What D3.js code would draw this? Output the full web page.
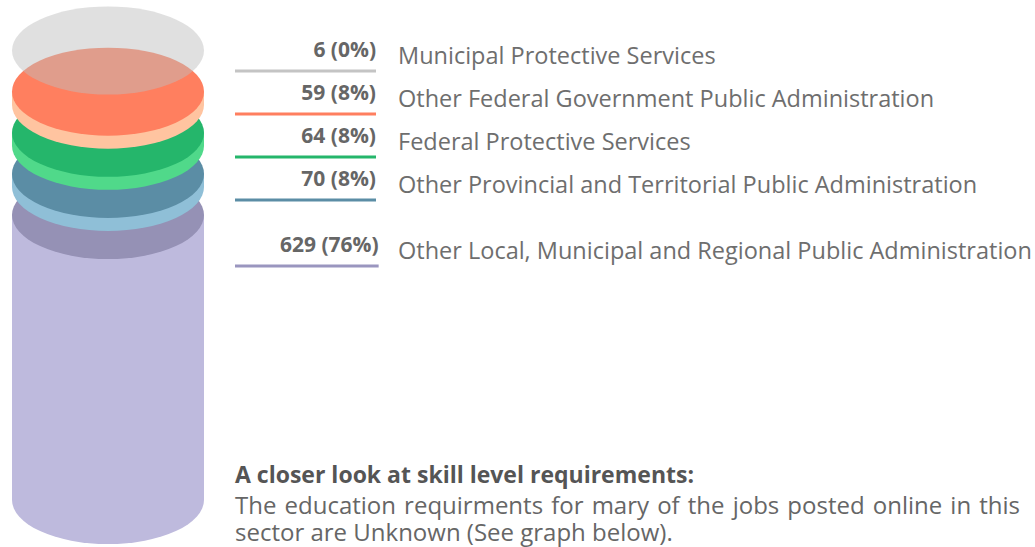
<!DOCTYPE html>
<html>
<head>
<meta charset="utf-8">
<script src="https://cdn.jsdelivr.net/npm/d3@7"></script>
<style>
  body { margin: 0; background: #fff; }
  svg { display: block; font-family: "Open Sans", sans-serif; }
</style>
</head>
<body>
<svg class="plot" width="1035" height="547"></svg>
<script>
// data, top layer first
var sectors = ["Municipal Protective Services",
               "Other Federal Government Public Administration",
               "Federal Protective Services",
               "Other Provincial and Territorial Public Administration",
               "Other Local, Municipal and Regional Public Administration"];
var counts = [6, 59, 64, 70, 629];
var percents = [0, 8, 8, 8, 76];

var faceColors = ["#bfbfbf", "#ff7f5f", "#25b66b", "#5b8da5", "#9591b5"];
var sideColors = ["#bfbfbf", "#ffc4a0", "#50d98a", "#8fbfd7", "#bebadd"];
var lineColors = ["#c4c4c4", "#ff7f5f", "#25b66b", "#5b8da5", "#9a96bf"];

var svg = d3.select(".plot");

var cx = 108, rx = 96, ry = 44;

// layer tops stacked down the cylinder
var yTop = d3.scaleLinear().domain([0, sectors.length - 1]).range([50.5, 215]);
// thickness of a layer from its share
var depth = d3.scaleLinear().domain([8, 76]).range([13, 285]);
function thick(p) { return Math.max(0, depth(p)); }

var rows = sectors.map(function(s, i) {
  return {name: s, count: counts[i], pct: percents[i], i: i,
          cy: yTop(i), t: thick(percents[i])};
});

var cyl = svg.append("g").attr("class", "cylinder");

// draw from the bottom layer up so upper ones overlap
var layer = cyl.selectAll(".layer")
    .data(rows.slice().reverse())
    .enter()
    .append("g")
    .attr("class", "layer")
    .attr("opacity", function(d) { return d.i === 0 ? 0.48 : 1; });

layer.filter(function(d) { return d.t > 0; })
    .append("path")
    .attr("fill", function(d) { return sideColors[d.i]; })
    .attr("d", function(d) {
      return "M" + (cx - rx) + "," + d.cy +
             "L" + (cx - rx) + "," + (d.cy + d.t) +
             "A" + rx + "," + ry + " 0 0 0 " + (cx + rx) + "," + (d.cy + d.t) +
             "L" + (cx + rx) + "," + d.cy + "Z";
    });

layer.append("ellipse")
    .attr("cx", cx)
    .attr("cy", function(d) { return d.cy; })
    .attr("rx", rx)
    .attr("ry", ry)
    .attr("fill", function(d) { return faceColors[d.i]; });

// legend rows
var legendY = d3.scaleLinear().domain([0, 3]).range([71, 200]);
function rowY(i) { return i < 4 ? legendY(i) : legendY(3) + 66; }

var leg = svg.selectAll(".leg")
    .data(rows)
    .enter()
    .append("g")
    .attr("class", "leg")
    .attr("transform", function(d) { return "translate(0," + rowY(d.i) + ")"; });

var vals = leg.append("text")
    .attr("class", "val")
    .attr("y", -14)
    .attr("text-anchor", "end")
    .style("font-size", "21px")
    .style("font-weight", "bold")
    .style("fill", "#666")
    .text(function(d) { return d.count + " (" + d.pct + "%)"; });

// underline runs at least to 376, further when the label is wide
vals.each(function(d) {
  d.right = Math.max(376, 280 + this.getComputedTextLength());
});
vals.attr("x", function(d) { return d.right; });

leg.append("line")
    .attr("x1", 235)
    .attr("x2", function(d) { return d.right; })
    .attr("stroke", function(d) { return lineColors[d.i]; })
    .attr("stroke-width", 3);

leg.append("text")
    .attr("x", 398)
    .attr("y", -7)
    .style("font-size", "23.5px")
    .style("fill", "#6e6e6e")
    .text(function(d) { return d.name; });

// note under the legend
svg.append("text")
    .attr("x", 235)
    .attr("y", 483)
    .style("font-size", "23px")
    .style("font-weight", "bold")
    .style("fill", "#555")
    .text("A closer look at skill level requirements:");

var para = svg.append("g");
var l1 = para.append("text")
    .attr("x", 235)
    .attr("y", 514)
    .style("font-size", "24px")
    .style("fill", "#666")
    .text("The education requirments for mary of the jobs posted online in this");
para.append("text")
    .attr("x", 235)
    .attr("y", 541)
    .style("font-size", "24px")
    .style("fill", "#666")
    .text("sector are Unknown (See graph below).");

// justify the first line to the column width
var natural = l1.node().getComputedTextLength();
var gaps = l1.text().split(" ").length - 1;
l1.style("word-spacing", Math.max(0, (1020 - 235 - natural) / gaps) + "px");
</script>
</body>
</html>
